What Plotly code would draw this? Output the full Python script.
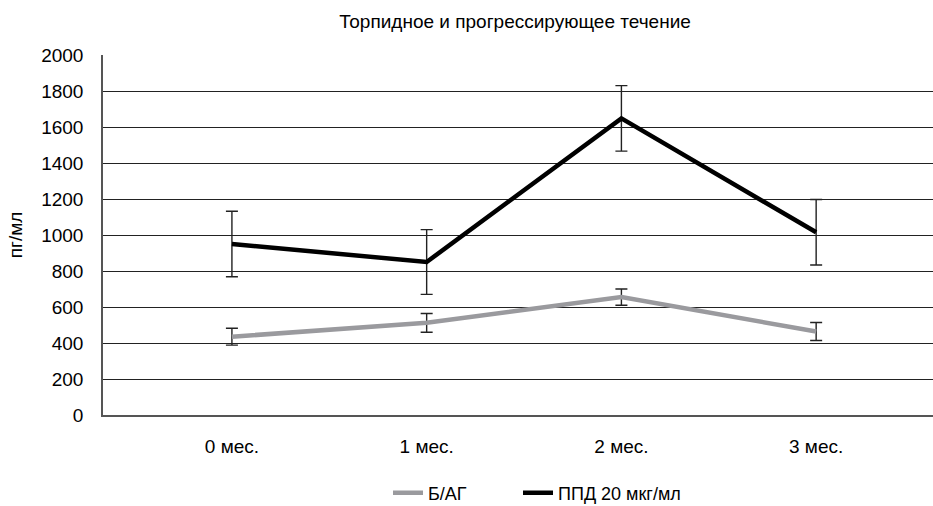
import plotly.graph_objects as go

categories = ["0 мес.", "1 мес.", "2 мес.", "3 мес."]
bag_values = [435, 512, 655, 464]
bag_err = [47, 52, 45, 50]
ppd_values = [950, 850, 1648, 1015]
ppd_err = [182, 180, 182, 182]
y_ticks = [0, 200, 400, 600, 800, 1000, 1200, 1400, 1600, 1800, 2000]

FONT = "Liberation Sans, Arial, sans-serif"

fig = go.Figure()
fig.add_trace(go.Scatter(
    x=list(range(len(categories))), y=bag_values, mode="lines", name="Б/АГ",
    line=dict(color="#9a9a9e", width=4.5), legend="legend",
    error_y=dict(type="data", array=bag_err, visible=True, color="#222222", thickness=1.4, width=6),
))
fig.add_trace(go.Scatter(
    x=list(range(len(categories))), y=ppd_values, mode="lines", name="ППД 20 мкг/мл",
    line=dict(color="#000000", width=4.5), legend="legend2",
    error_y=dict(type="data", array=ppd_err, visible=True, color="#222222", thickness=1.4, width=6),
))

leg_common = dict(orientation="h", xref="container", yref="container", xanchor="left",
                  y=1 - 493/506, yanchor="middle", font=dict(family=FONT, size=18),
                  bgcolor="rgba(0,0,0,0)")

fig.update_layout(
    width=933, height=506,
    margin=dict(l=103, r=0, t=55, b=91),
    paper_bgcolor="white", plot_bgcolor="white",
    font=dict(family=FONT, size=19, color="#000000"),
    title=dict(text="Торпидное и прогрессирующее течение", x=515/933, xanchor="center",
               y=1 - 21/506, yanchor="middle", xref="container", yref="container",
               font=dict(family=FONT, size=19)),
    showlegend=True,
    legend=dict(x=388/933, **leg_common),
    legend2=dict(x=518/933, **leg_common),
)
fig.update_xaxes(
    range=[-0.662, 3.6], tickmode="array", tickvals=list(range(len(categories))), ticktext=categories,
    showgrid=False, showline=True, linecolor="#555555", linewidth=1.5, ticks="",
    ticklabelstandoff=13, zeroline=False, fixedrange=True,
)
fig.update_yaxes(
    range=[0, 2000], tickmode="array", tickvals=y_ticks,
    showgrid=True, gridcolor="#222222", gridwidth=1.3,
    showline=True, linecolor="#555555", linewidth=1.5, ticks="",
    ticklabelstandoff=14, zeroline=False,
    title=dict(text="пг/мл", standoff=14, font=dict(family=FONT, size=19)),
)

fig.write_html("out.html")
